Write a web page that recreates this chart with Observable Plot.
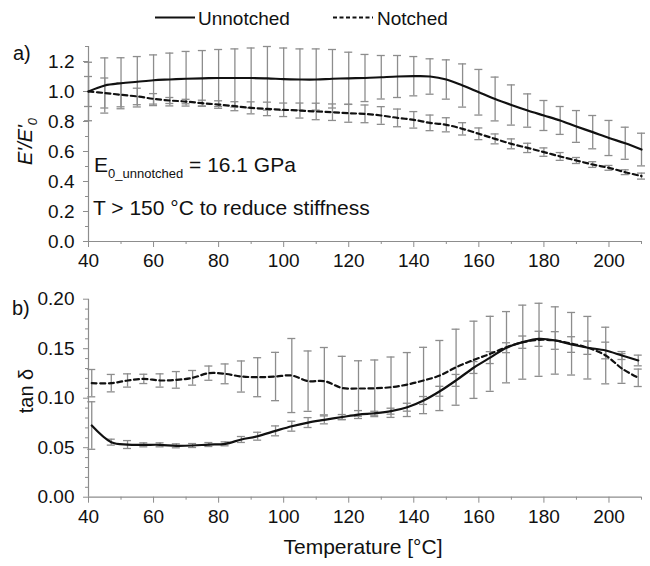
<!DOCTYPE html>
<html>
<head>
<meta charset="utf-8">
<script src="https://cdn.jsdelivr.net/npm/d3@7"></script>
<script src="https://cdn.jsdelivr.net/npm/@observablehq/plot@0.6"></script>
<style>
  body { margin: 0; background: #fff; }
  #wrap { position: relative; width: 650px; height: 566px; overflow: hidden; font-family: "Liberation Sans", Arial, sans-serif; }
  #wrap > svg { position: absolute; left: 0; }
  #overlay { top: 0; pointer-events: none; }
</style>
</head>
<body>
<div id="wrap"></div>
<script>
// ---------- Panel a) storage modulus ratio E'/E'0 ----------
const tempA = [40, 45, 50, 55, 60, 65, 70, 75, 80, 85, 90, 95, 100, 105, 110, 115, 120, 125, 130, 135,
               140, 145, 150, 155, 160, 165, 170, 175, 180, 185, 190, 195, 200, 205, 210];
const unnotchedA = [1.0, 1.04, 1.055, 1.065, 1.075, 1.08, 1.085, 1.088, 1.09, 1.09, 1.09, 1.088, 1.082, 1.08, 1.08,
                    1.085, 1.088, 1.09, 1.095, 1.1, 1.102, 1.1, 1.08, 1.04, 0.995, 0.95, 0.91, 0.873, 0.84, 0.807,
                    0.767, 0.729, 0.69, 0.655, 0.613];
const unnotchedAErr = [0.195, 0.184, 0.17, 0.168, 0.169, 0.176, 0.182, 0.185, 0.19, 0.194, 0.2, 0.212, 0.208, 0.204, 0.204,
                       0.195, 0.174, 0.157, 0.145, 0.14, 0.131, 0.118, 0.131, 0.144, 0.152, 0.146, 0.134, 0.111, 0.1, 0.093,
                       0.106, 0.111, 0.117, 0.107, 0.109];
const notchedA = [1.0, 0.99, 0.978, 0.967, 0.951, 0.94, 0.933, 0.922, 0.913, 0.902, 0.891, 0.884, 0.878, 0.873, 0.867,
                  0.862, 0.855, 0.851, 0.84, 0.824, 0.811, 0.791, 0.778, 0.751, 0.718, 0.684, 0.651, 0.624, 0.596, 0.567,
                  0.54, 0.513, 0.491, 0.462, 0.436];
const notchedAErr = [0.1, 0.1, 0.08, 0.055, 0.035, 0.02, 0.015, 0.02, 0.025, 0.03, 0.04, 0.045, 0.045, 0.05, 0.055,
                     0.055, 0.06, 0.059, 0.059, 0.059, 0.055, 0.052, 0.047, 0.041, 0.039, 0.033, 0.033, 0.031, 0.028, 0.026,
                     0.02, 0.019, 0.016, 0.016, 0.02];

// ---------- Panel b) loss factor tan delta ----------
const tempB = [41, 47, 52, 57, 62, 67, 72, 77, 82, 87, 92, 97.5, 102.5, 107.5, 112.5, 118, 123, 128, 133, 138,
               143, 148, 153, 158.5, 163.5, 168.5, 173.5, 178.5, 183.5, 188.5, 193.5, 199, 204, 209];
const unnotchedB = [0.0724, 0.0556, 0.0532, 0.0529, 0.0529, 0.0519, 0.0522, 0.0532, 0.0539, 0.0583, 0.0616, 0.067,
                    0.0717, 0.0754, 0.0781, 0.081, 0.0835, 0.0848, 0.0869, 0.0909, 0.0977, 0.107, 0.118, 0.131, 0.141,
                    0.151, 0.1566, 0.16, 0.1583, 0.1542, 0.151, 0.1482, 0.1431, 0.1381];
const unnotchedBErr = [0.024, 0.003, 0.004, 0.002, 0.002, 0.002, 0.002, 0.002, 0.002, 0.003, 0.004, 0.005, 0.005, 0.005,
                       0.004, 0.0025, 0.004, 0.002, 0.003, 0.004, 0.004, 0.005, 0.006, 0.006, 0.006, 0.005, 0.0062, 0.0076,
                       0.0089, 0.0079, 0.0067, 0.0084, 0.004, 0.0054];
const notchedB = [0.1152, 0.1152, 0.1179, 0.1195, 0.1179, 0.1185, 0.1206, 0.1253, 0.1246, 0.1219, 0.1212, 0.1219, 0.1229,
                  0.1172, 0.1172, 0.1103, 0.1098, 0.11, 0.1111, 0.1138, 0.1179, 0.1229, 0.1313, 0.1388, 0.1448, 0.1515,
                  0.1566, 0.159, 0.1583, 0.155, 0.151, 0.1431, 0.13, 0.1206];
const notchedBErr = [0.0138, 0.0088, 0.0067, 0.0047, 0.0067, 0.0084, 0.0074, 0.0072, 0.01, 0.0157, 0.0197, 0.0244, 0.0374,
                     0.0305, 0.034, 0.032, 0.028, 0.0286, 0.0305, 0.0323, 0.0335, 0.0354, 0.0384, 0.039, 0.0379, 0.036,
                     0.0374, 0.0369, 0.034, 0.0316, 0.0316, 0.0286, 0.015, 0.0088];

// ---------- ticks ----------
const xMajor = [40, 60, 80, 100, 120, 140, 160, 180, 200];
const xMinor = [50, 70, 90, 110, 130, 150, 170, 190, 210];
const yMajorA = [0, 0.2, 0.4, 0.6, 0.8, 1.0, 1.2];
const yMinorA = [0.1, 0.3, 0.5, 0.7, 0.9, 1.1, 1.3];
const yMajorB = [0, 0.05, 0.10, 0.15, 0.20];
const yMinorB = [0.01, 0.02, 0.03, 0.04, 0.06, 0.07, 0.08, 0.09, 0.11, 0.12, 0.13, 0.14, 0.16, 0.17, 0.18, 0.19];

// ---------- texts ----------
const seriesNames = ["Unnotched", "Notched"];
const xTitle = "Temperature [°C]";

const GRAY = "#8d8d8d";
const INK = "#111";
const FONT = "'Liberation Sans', Arial, sans-serif";

function table(temps, vals, errs) {
  return temps.map((t, i) => ({t, v: vals[i], lo: vals[i] - errs[i], hi: vals[i] + errs[i]}));
}

function errorBars(data) {
  return [
    Plot.ruleX(data, {x: "t", y1: "lo", y2: "hi", stroke: GRAY, strokeWidth: 1.3}),
    Plot.ruleY(data, {y: "lo", x1: "t", x2: "t", insetLeft: -4, insetRight: -4, stroke: GRAY, strokeWidth: 1.3}),
    Plot.ruleY(data, {y: "hi", x1: "t", x2: "t", insetLeft: -4, insetRight: -4, stroke: GRAY, strokeWidth: 1.3})
  ];
}

function panel({top, height, marginTop, marginBottom, yDomain, yMajor, yMinor, yFmt, un, no}) {
  const svg = Plot.plot({
    width: 650, height, marginLeft: 88, marginRight: 9, marginTop, marginBottom,
    x: {domain: [40, 210]},
    y: {domain: yDomain},
    style: {fontFamily: FONT, fontSize: "19px", color: INK, background: "transparent", overflow: "visible"},
    marks: [
      Plot.ruleY([yDomain[0]], {stroke: GRAY, strokeWidth: 1.2}),
      Plot.ruleX([40], {stroke: GRAY, strokeWidth: 1.2}),
      Plot.axisX({ticks: xMinor, tickSize: 3, tickFormat: () => "", stroke: GRAY, label: null}),
      Plot.axisX({ticks: xMajor, tickSize: 6, tickPadding: 6, stroke: GRAY, label: null, tickFormat: d3.format("d")}),
      Plot.axisY({ticks: yMinor, tickSize: 3, tickFormat: () => "", stroke: GRAY, label: null}),
      Plot.axisY({ticks: yMajor, tickSize: 5, tickPadding: 9, stroke: GRAY, label: null, tickFormat: d3.format(yFmt)}),
      ...errorBars(no),
      ...errorBars(un),
      Plot.line(no, {x: "t", y: "v", stroke: INK, strokeWidth: 2.2, strokeDasharray: "5,3.5", curve: "catmull-rom"}),
      Plot.line(un, {x: "t", y: "v", stroke: INK, strokeWidth: 2.2, curve: "catmull-rom"})
    ]
  });
  svg.style.top = top + "px";
  return svg;
}

const wrap = document.getElementById("wrap");

wrap.appendChild(panel({
  top: 0, height: 275, marginTop: 46, marginBottom: 34,
  yDomain: [0, 1.3], yMajor: yMajorA, yMinor: yMinorA, yFmt: ".1f",
  un: table(tempA, unnotchedA, unnotchedAErr),
  no: table(tempA, notchedA, notchedAErr)
}));

wrap.appendChild(panel({
  top: 275, height: 291, marginTop: 23.7, marginBottom: 69.3,
  yDomain: [0, 0.2], yMajor: yMajorB, yMinor: yMinorB, yFmt: ".2f",
  un: table(tempB, unnotchedB, unnotchedBErr),
  no: table(tempB, notchedB, notchedBErr)
}));

// ---------- overlay: legend, panel letters, axis titles, annotations ----------
const ns = "http://www.w3.org/2000/svg";
const ov = d3.create("svg").attr("id", "overlay").attr("width", 650).attr("height", 566)
  .attr("xmlns", ns).style("font-family", FONT).style("fill", INK);

// legend
ov.append("line").attr("x1", 155).attr("x2", 195).attr("y1", 17.5).attr("y2", 17.5)
  .attr("stroke", INK).attr("stroke-width", 2.2);
ov.append("text").attr("x", 198).attr("y", 24.5).attr("font-size", 19).text(seriesNames[0]);
ov.append("line").attr("x1", 333).attr("x2", 373).attr("y1", 17.5).attr("y2", 17.5)
  .attr("stroke", INK).attr("stroke-width", 2.2).attr("stroke-dasharray", "4,2.5");
ov.append("text").attr("x", 377).attr("y", 24.5).attr("font-size", 19).text(seriesNames[1]);

// panel letters
ov.append("text").attr("x", 13).attr("y", 60).attr("font-size", 20).text("a)");
ov.append("text").attr("x", 12).attr("y", 315).attr("font-size", 20).text("b)");

// y titles
const ya = ov.append("text").attr("transform", "translate(32,165) rotate(-90)")
  .attr("font-size", 20).attr("font-style", "italic");
ya.append("tspan").text("E'/E'");
ya.append("tspan").attr("font-size", 13).attr("dy", 5).text("0");

ov.append("text").attr("transform", "translate(33,391) rotate(-90)")
  .attr("text-anchor", "middle").attr("font-size", 20).text("tan δ");

// x title
ov.append("text").attr("x", 363).attr("y", 554).attr("text-anchor", "middle").attr("font-size", 21).text(xTitle);

// annotations
const e0 = ov.append("text").attr("x", 94).attr("y", 171.5).attr("font-size", 21);
e0.append("tspan").text("E");
e0.append("tspan").attr("font-size", 13).attr("dy", 6).text("0_unnotched");
e0.append("tspan").attr("dy", -6).text(" = 16.1 GPa");
ov.append("text").attr("x", 93).attr("y", 215).attr("font-size", 21).text("T > 150 °C to reduce stiffness");

wrap.appendChild(ov.node());
</script>
</body>
</html>
